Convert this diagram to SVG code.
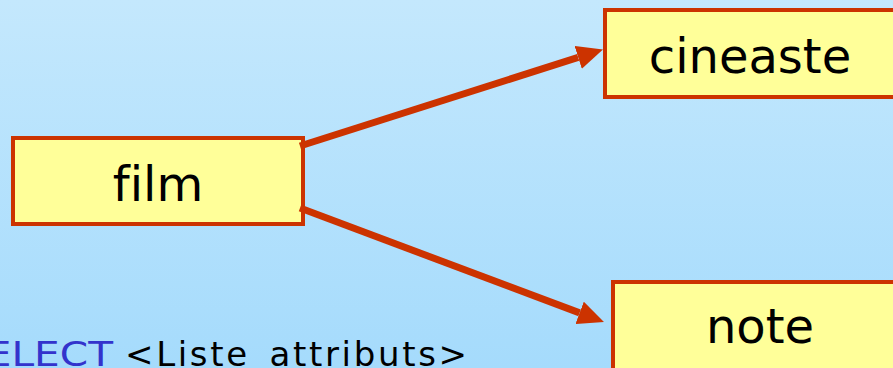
<svg xmlns="http://www.w3.org/2000/svg" width="893" height="368" viewBox="0 0 893 368">
  <defs>
    <linearGradient id="bg" x1="0" y1="0" x2="0" y2="1">
      <stop offset="0" stop-color="#C4E8FD"/>
      <stop offset="1" stop-color="#A5DBFC"/>
    </linearGradient>
    <marker id="head" markerUnits="userSpaceOnUse" markerWidth="26" markerHeight="24" viewBox="0 0 26 24" refX="0" refY="12" orient="auto">
      <path d="M0,0 L26,12 L0,24 Z" fill="#CC3300"/>
    </marker>
    <style>
      .box { fill: #FFFF99; stroke: #CC3300; stroke-width: 4; }
      .label { font-family: "DejaVu Sans", "Liberation Sans", sans-serif; font-size: 48px; fill: #000; text-anchor: middle; font-variant-ligatures: none; }
      .link { stroke: #CC3300; stroke-width: 7; fill: none; marker-end: url(#head); }
      .code { font-family: "DejaVu Sans", "Liberation Sans", sans-serif; font-size: 34px; }
    </style>
  </defs>

  <rect x="0" y="0" width="893" height="368" fill="url(#bg)"/>

  <g id="film">
    <rect class="box" x="13" y="138" width="290" height="86"/>
    <text class="label" x="158" y="201">film</text>
  </g>

  <g id="cineaste">
    <rect class="box" x="605" y="10" width="300" height="87"/>
    <text class="label" x="750" y="73">cineaste</text>
  </g>

  <g id="note">
    <rect class="box" x="613" y="282" width="300" height="100"/>
    <text class="label" x="760" y="343">note</text>
  </g>

  <g id="connectors">
    <line class="link" x1="300" y1="146" x2="578.2" y2="57.4"/>
    <line class="link" x1="300" y1="208" x2="579.6" y2="312.9"/>
  </g>

  <!-- query line, partly outside the frame on the left and bottom -->
  <g id="query">
    <text class="code" x="-40" y="366" fill="#3333CC" textLength="153" lengthAdjust="spacingAndGlyphs">SELECT</text>
    <text class="code" x="125" y="366" fill="#000" textLength="342" lengthAdjust="spacing">&lt;Liste_attributs&gt;</text>
  </g>
</svg>
